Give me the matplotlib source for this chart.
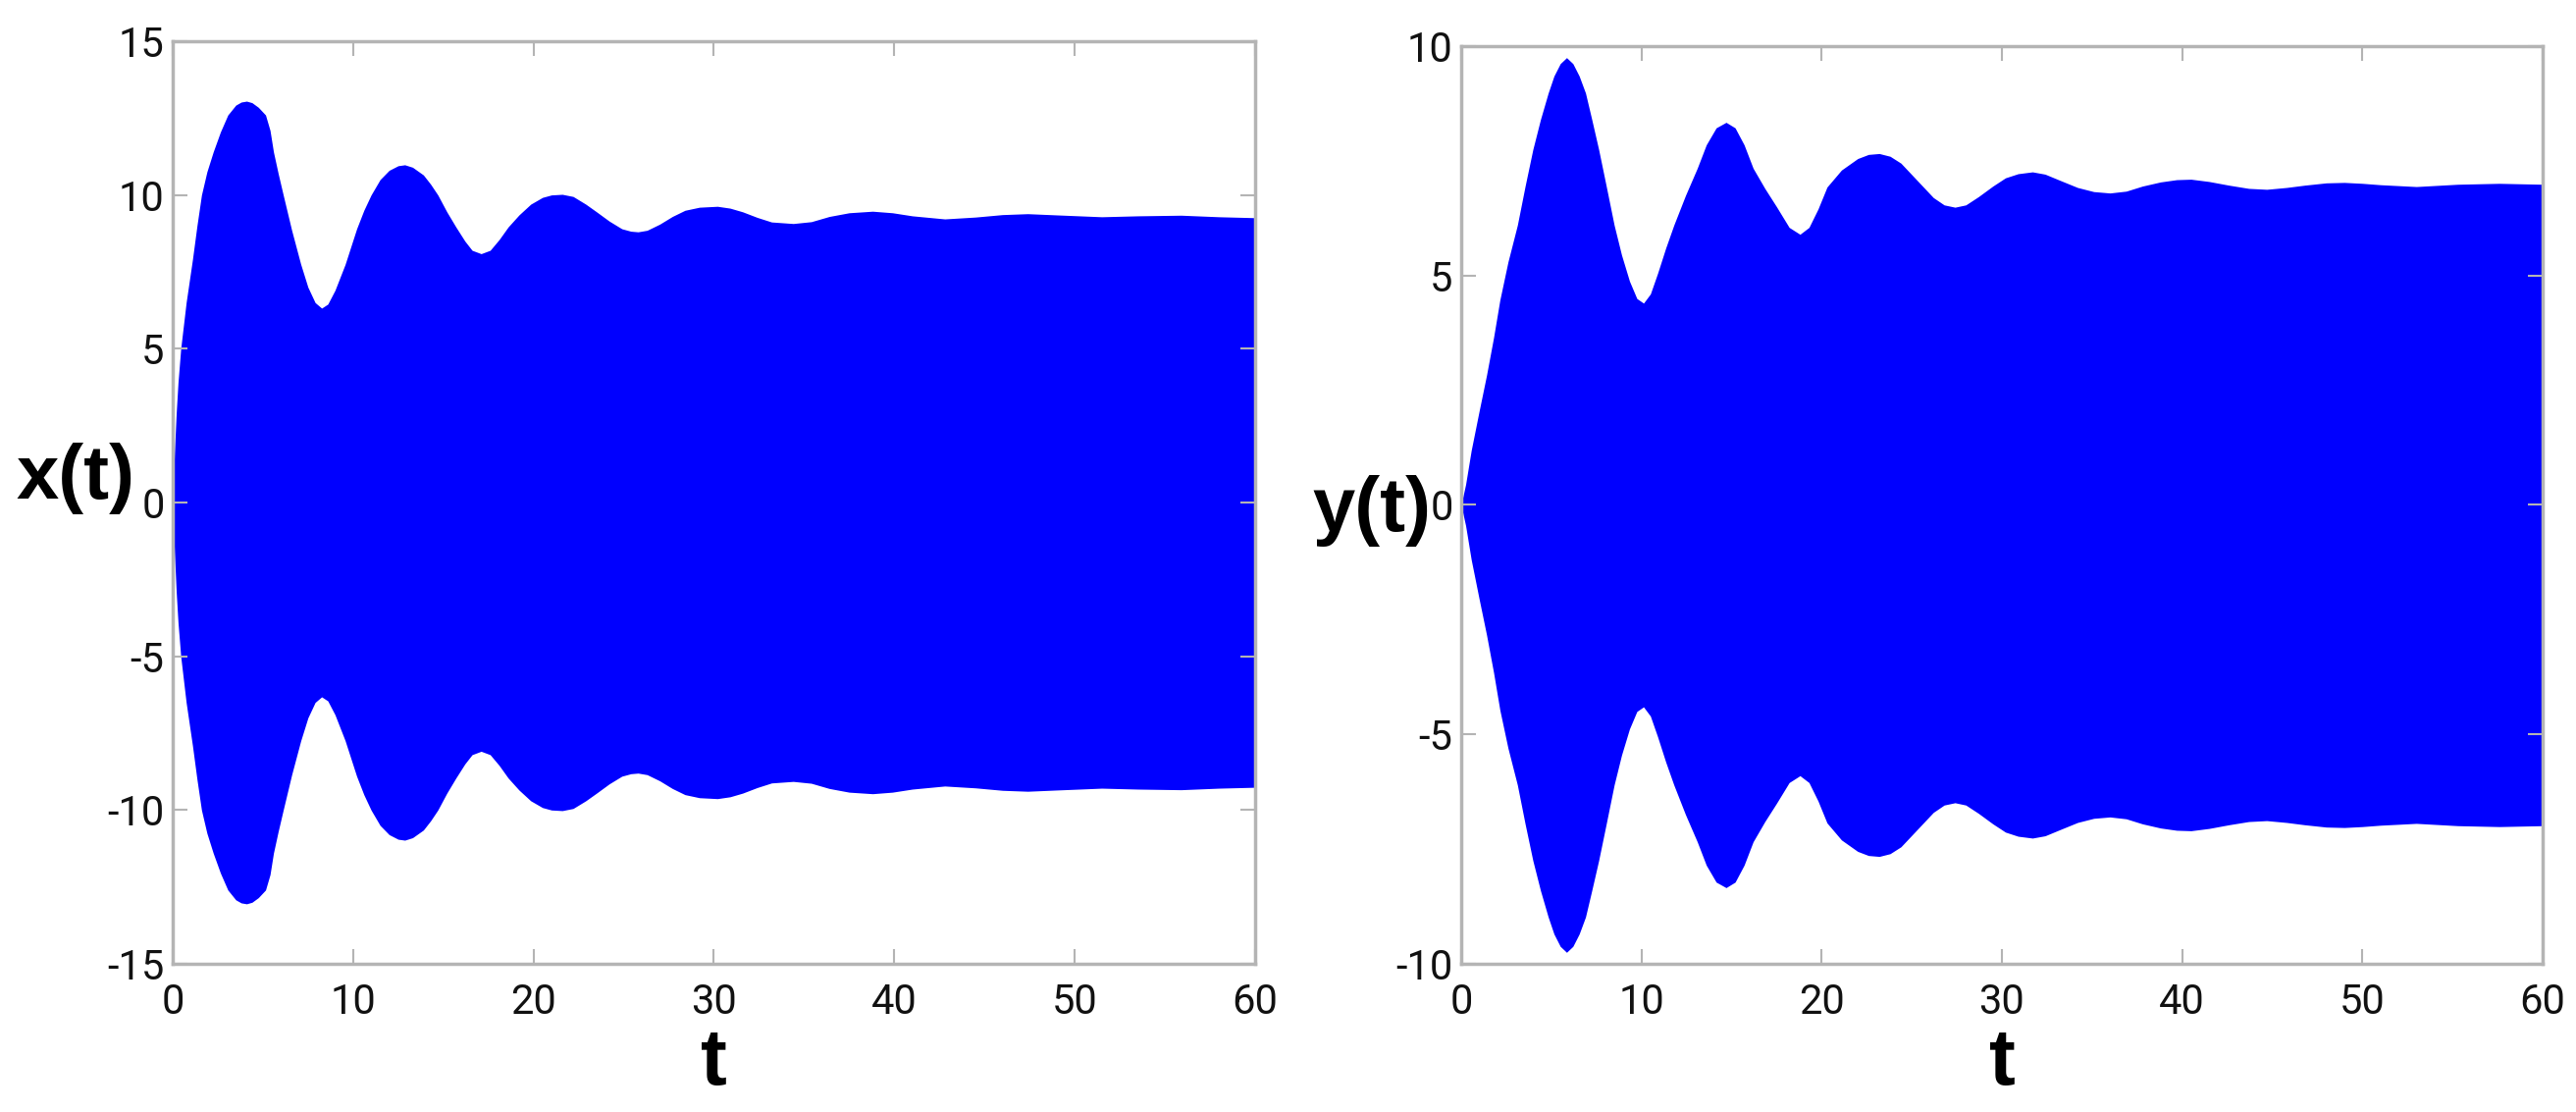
import numpy as np
import matplotlib.pyplot as plt

# envelope of the fast oscillation (the fill is symmetric about 0)
t_x = [0.0, 0.1, 0.2, 0.3, 0.45, 0.75, 1.1, 1.35, 1.6, 1.9, 2.25, 2.65, 3.06, 3.5, 3.8,
       4.1, 4.4, 4.75, 5.15, 5.4, 5.59, 5.85, 6.13, 6.6, 7.1, 7.5, 7.9, 8.26, 8.6,
       9.0, 9.56, 10.2, 10.6, 11.0, 11.5, 12.0, 12.5, 12.87, 13.3, 13.9, 14.3, 14.7,
       15.2, 15.7, 16.2, 16.6, 17.1, 17.6, 18.1, 18.6, 19.2, 19.85, 20.5, 21.0, 21.6,
       22.2, 22.9, 23.5, 24.2, 24.9, 25.4, 25.8, 26.3, 27.0, 27.7, 28.4, 29.2, 30.2,
       30.9, 31.6, 32.4, 33.2, 34.4, 35.4, 36.4, 37.5, 38.8, 39.9, 41.0, 42.8, 44.5,
       46.0, 47.4, 49.0, 51.5, 53.5, 55.9, 58.0, 60.0]
x_env = [0.0, 1.6, 2.9, 3.9, 5.0, 6.5, 7.9, 9.0, 10.0, 10.75, 11.4, 12.05, 12.6, 12.92, 13.02,
         13.05, 13.0, 12.85, 12.6, 12.1, 11.4, 10.7, 10.0, 8.85, 7.75, 7.0, 6.5, 6.32, 6.45,
         6.9, 7.74, 8.9, 9.5, 10.0, 10.5, 10.8, 10.95, 10.98, 10.9, 10.65, 10.35, 10.0,
         9.45, 8.96, 8.5, 8.2, 8.09, 8.2, 8.55, 8.96, 9.35, 9.7, 9.92, 10.0, 10.02,
         9.95, 9.7, 9.45, 9.15, 8.9, 8.82, 8.8, 8.85, 9.05, 9.3, 9.5, 9.6, 9.63,
         9.57, 9.45, 9.27, 9.12, 9.07, 9.13, 9.3, 9.42, 9.47, 9.42, 9.32, 9.22, 9.28,
         9.36, 9.39, 9.35, 9.29, 9.32, 9.34, 9.29, 9.26]

t_y = [0.0, 0.25, 0.56, 1.0, 1.41, 1.8, 2.15, 2.6, 3.12, 3.55, 3.98, 4.4, 4.83, 5.15, 5.5,
       5.85, 6.2, 6.55, 6.9, 7.25, 7.63, 8.05, 8.49, 8.9, 9.34, 9.75, 10.12, 10.5, 10.9,
       11.35, 11.8, 12.45, 13.1, 13.6, 14.15, 14.7, 15.2, 15.7, 16.2, 16.85, 17.5, 18.2,
       18.8, 19.3, 19.8, 20.3, 21.1, 22.0, 22.6, 23.2, 23.8, 24.4, 25.0, 25.6, 26.2,
       26.8, 27.4, 28.0, 28.7, 29.5, 30.2, 30.9, 31.7, 32.4, 33.2, 34.2, 35.1, 36.0,
       36.9, 37.8, 38.8, 39.7, 40.5, 41.5, 42.6, 43.7, 44.7, 45.8, 46.8, 48.0, 49.0,
       50.0, 51.0, 53.0, 55.3, 57.6, 60.0]
y_env = [0.0, 0.45, 1.19, 2.05, 2.83, 3.65, 4.47, 5.3, 6.1, 6.95, 7.75, 8.4, 8.98, 9.35, 9.62,
         9.75, 9.62, 9.35, 8.98, 8.4, 7.75, 6.95, 6.1, 5.45, 4.88, 4.5, 4.4, 4.6, 5.05,
         5.6, 6.1, 6.75, 7.34, 7.85, 8.22, 8.34, 8.22, 7.85, 7.34, 6.9, 6.5, 6.05,
         5.9, 6.05, 6.45, 6.93, 7.3, 7.55, 7.64, 7.66, 7.6, 7.45, 7.2, 6.95, 6.7,
         6.54, 6.49, 6.54, 6.72, 6.95, 7.13, 7.22, 7.26, 7.21, 7.08, 6.92, 6.83, 6.80,
         6.84, 6.95, 7.04, 7.09, 7.10, 7.05, 6.97, 6.9, 6.88, 6.92, 6.97, 7.02, 7.03,
         7.01, 6.98, 6.94, 6.99, 7.01, 6.99]

plt.rcParams['font.family'] = ['Liberation Sans Narrow', 'DejaVu Sans Condensed', 'Roboto', 'DejaVu Sans']
plt.rcParams['axes.unicode_minus'] = False
label_font = ['Liberation Sans', 'DejaVu Sans']

fig = plt.figure(figsize=(26.25, 11.33), dpi=100)
ax1 = fig.add_axes([0.0670, 0.1333, 0.4202, 0.8297])
ax2 = fig.add_axes([0.5672, 0.1333, 0.4198, 0.8252])


def style(ax):
    for s in ax.spines.values():
        s.set_color('#b4b4b4')
        s.set_linewidth(2.5)
    ax.tick_params(direction='in', top=True, right=True, length=11, width=1.5,
                   color='#b4b4b4', labelsize=30, labelcolor='#111111')
    ax.tick_params(axis='x', pad=14)
    ax.tick_params(axis='y', pad=6)
    ax.set_xlim(0, 60)
    ax.set_xticks(np.arange(0, 61, 10))


# x(t)
xe = np.array(x_env)
ax1.fill_between(t_x, -xe, xe, color='#0000ff', lw=0)
style(ax1)
ax1.set_ylim(-15, 15)
ax1.set_yticks(np.arange(-15, 16, 5))
ax1.set_ylabel('x(t)', rotation=0, fontsize=56, fontweight='bold', family=label_font,
               ha='right', va='baseline')
ax1.yaxis.set_label_coords(-0.035, 0.504)
ax1.set_xlabel('t', fontsize=58, fontweight='bold', family=label_font, va='baseline')
ax1.xaxis.set_label_coords(0.5, -0.131)

# y(t)
ye = np.array(y_env)
ax2.fill_between(t_y, -ye, ye, color='#0000ff', lw=0)
style(ax2)
ax2.set_ylim(-10, 10)
ax2.set_yticks(np.arange(-10, 11, 5))
ax2.set_ylabel('y(t)', rotation=0, fontsize=56, fontweight='bold', family=label_font,
               ha='right', va='baseline')
ax2.yaxis.set_label_coords(-0.028, 0.472)
ax2.set_xlabel('t', fontsize=58, fontweight='bold', family=label_font, va='baseline')
ax2.xaxis.set_label_coords(0.5, -0.1316)

fig.savefig('out.png', dpi=100)
